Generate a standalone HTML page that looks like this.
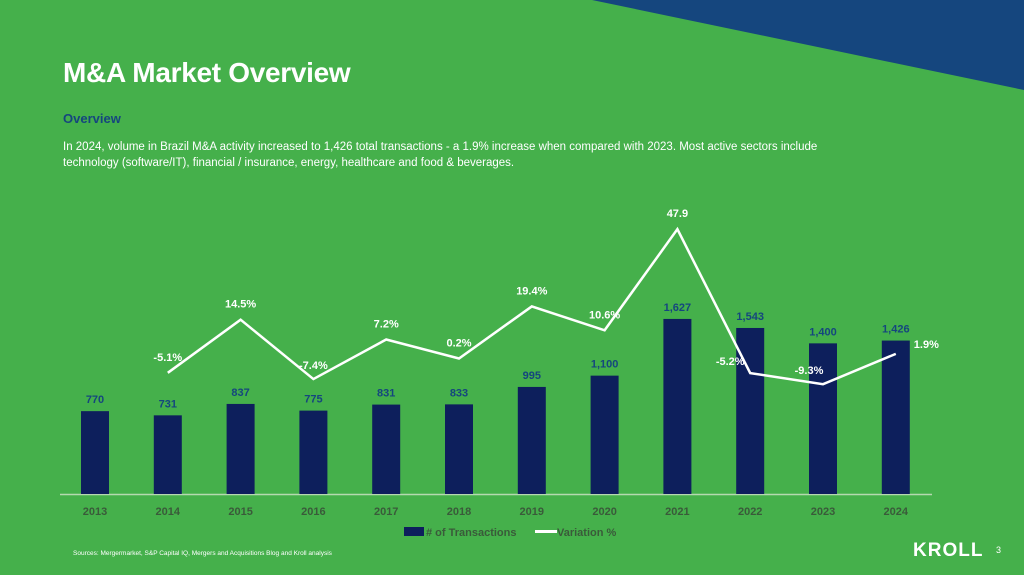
<!DOCTYPE html>
<html><head><meta charset="utf-8"><style>
body{margin:0;width:1024px;height:575px;background:#45b04b;overflow:hidden;font-family:"Liberation Sans",sans-serif;position:relative}
.t{position:absolute;margin:0}
</style></head><body>
<svg width="1024" height="575" style="position:absolute;left:0;top:0">
<polygon points="592,0 1024,0 1024,90" fill="#15467e"/>
<g id="chart"></g>
</svg>
<h1 class="t" style="left:63px;top:57px;font-size:28px;color:#fff;font-weight:bold;letter-spacing:-0.3px">M&amp;A Market Overview</h1>
<div class="t" style="left:63px;top:111px;font-size:13px;color:#15467e;font-weight:bold">Overview</div>
<div class="t" style="left:63px;top:139px;font-size:11.5px;color:#fff;line-height:16px;white-space:nowrap">In 2024, volume in Brazil M&amp;A activity increased to 1,426 total transactions - a 1.9% increase when compared with 2023. Most active sectors include<br>technology (software/IT), financial / insurance, energy, healthcare and food &amp; beverages.</div>
<div class="t" style="left:73px;top:550px;font-size:6.5px;color:#fff">Sources: Mergermarket, S&amp;P Capital IQ, Mergers and Acquisitions Blog and Kroll analysis</div>
<div class="t" style="left:913px;top:540px;font-size:19px;color:#fff;font-weight:bold;letter-spacing:1px">KROLL</div>
<div class="t" style="left:996px;top:545px;font-size:9px;color:#fff">3</div>
<script>
const years=["2013","2014","2015","2016","2017","2018","2019","2020","2021","2022","2023","2024"];
const transactions=[770,731,837,775,831,833,995,1100,1627,1543,1400,1426];
const variation=[null,-5.1,14.5,-7.4,7.2,0.2,19.4,10.6,47.9,-5.2,-9.3,1.9];
const varLabels=["","-5.1%","14.5%","-7.4%","7.2%","0.2%","19.4%","10.6%","47.9","-5.2%","-9.3%","1.9%"];
const NS="http://www.w3.org/2000/svg";
const g=document.getElementById('chart');
const x=i=>95+i*72.8;
const yb=v=>494-v*0.1076;
const yl=v=>359-v*2.71;
function mk(t,a){const e=document.createElementNS(NS,t);for(const k in a)e.setAttribute(k,a[k]);g.appendChild(e);return e;}
let ax=mk('line',{x1:60,x2:932,y1:494.5,y2:494.5,stroke:'#b5d9b0','stroke-width':1.5});


years.forEach((yr,i)=>{
 const r=mk('rect',{x:x(i)-14,y:yb(transactions[i]),width:28,height:494-yb(transactions[i]),fill:'#0d1f5c'});
 
 
 const l=mk('text',{x:x(i),y:yb(transactions[i])-8,'text-anchor':'middle','font-size':11,'font-weight':'bold',fill:'#15467e'});
 l.textContent=transactions[i].toLocaleString('en-US');
 
 
 const t=mk('text',{x:x(i),y:515,'text-anchor':'middle','font-size':11,'font-weight':'bold',fill:'#3a5a3a'});
 t.textContent=yr;
 
 
});
let pts=[];variation.forEach((v,i)=>{if(v!==null)pts.push(x(i)+','+yl(v));});
const pl=mk('polyline',{points:pts.join(' '),fill:'none',stroke:'#fff','stroke-width':2.5,'stroke-linejoin':'miter'});


variation.forEach((v,i)=>{if(v===null)return;
 let dx=0,dy=-12,anc='middle';
 if(i===9){dx=-20;dy=-8;} if(i===10){dx=-14;dy=-10;} if(i===11){dx=18;dy=-6;anc='start';}
 if(i===3){dy=-10;}
 const l=mk('text',{x:x(i)+dx,y:yl(v)+dy,'text-anchor':anc,'font-size':11,'font-weight':'bold',fill:'#fff'});
 l.textContent=varLabels[i];
 
 
});
const lg1=mk('rect',{x:404,y:527,width:20,height:9,fill:'#0d1f5c'});


const lt1=mk('text',{x:426,y:536,'font-size':11,'font-weight':'bold',fill:'#3a5a3a'});lt1.textContent='# of Transactions';


const lg2=mk('line',{x1:535,x2:557,y1:531.5,y2:531.5,stroke:'#fff','stroke-width':3});


const lt2=mk('text',{x:557,y:536,'font-size':11,'font-weight':'bold',fill:'#3a5a3a'});lt2.textContent='Variation %';


</script>
</body></html>
